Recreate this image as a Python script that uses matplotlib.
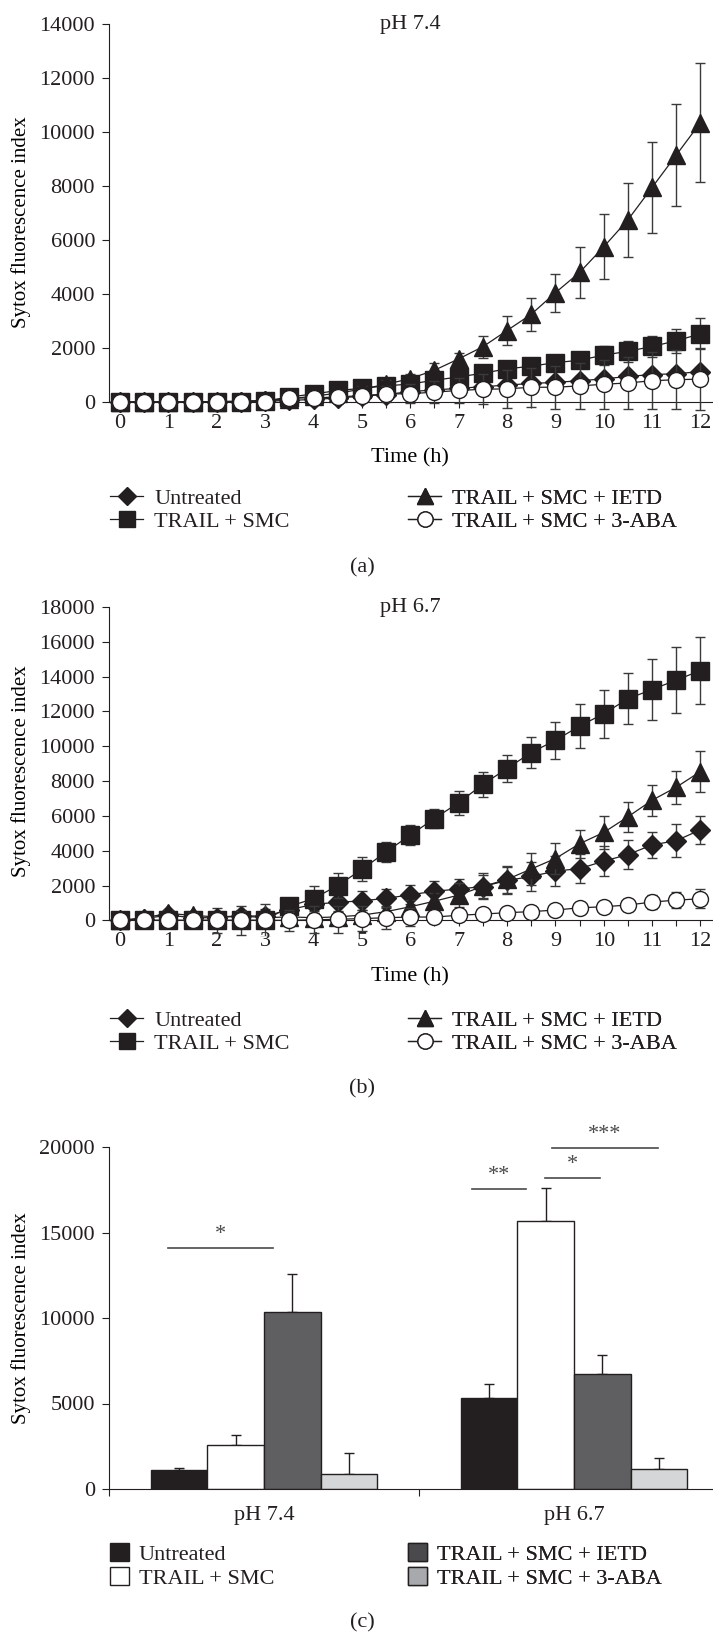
import matplotlib.pyplot as plt
from matplotlib.lines import Line2D
from matplotlib.patches import Patch

plt.rcParams['font.family'] = 'serif'
plt.rcParams['font.serif'] = ['Liberation Serif', 'DejaVu Serif']
plt.rcParams['font.size'] = 16
INK = '#231f20'
ERR = '#3a3a3a'
FS = 16
plt.rcParams['text.color'] = INK
plt.rcParams['axes.edgecolor'] = INK
plt.rcParams['xtick.color'] = INK
plt.rcParams['ytick.color'] = INK

# time points (h)
hours = [0, 0.5, 1, 1.5, 2, 2.5, 3, 3.5, 4, 4.5, 5, 5.5, 6, 6.5, 7, 7.5,
         8, 8.5, 9, 9.5, 10, 10.5, 11, 11.5, 12]
labels = ['Untreated', 'TRAIL + SMC', 'TRAIL + SMC + IETD', 'TRAIL + SMC + 3-ABA']

# (a) pH 7.4
untreated_a = [0, 0, 0, 0, 10, 20, 30, 60, 100, 150, 220, 280, 390, 450, 510, 570,
               630, 690, 730, 790, 860, 950, 1020, 1050, 1130]
untreated_a_err = [20, 20, 20, 20, 30, 30, 40, 50, 60, 80, 100, 110, 120, 130, 140, 150,
                   150, 160, 160, 170, 170, 180, 180, 190, 150]
trail_smc_a = [0, 0, 0, 0, 10, 20, 40, 190, 300, 430, 510, 600, 670, 810, 930, 1070,
               1230, 1330, 1460, 1550, 1740, 1880, 2060, 2270, 2530]
trail_smc_a_err = [20, 20, 20, 20, 30, 30, 40, 60, 80, 100, 120, 140, 160, 200, 220, 250,
                   260, 280, 300, 300, 350, 380, 400, 450, 580]
ietd_a = [0, 0, 0, 10, 20, 40, 60, 120, 220, 330, 480, 660, 870, 1180, 1600, 2050,
          2650, 3250, 4050, 4800, 5750, 6750, 7950, 9150, 10350]
ietd_a_err = [20, 20, 20, 20, 30, 40, 50, 60, 80, 100, 120, 150, 180, 250, 200, 400,
              540, 600, 700, 950, 1200, 1370, 1680, 1900, 2200]
aba_a = [0, 0, 0, 0, 0, 10, 10, 150, 155, 190, 240, 300, 310, 370, 430, 476,
         490, 550, 550, 600, 660, 710, 790, 830, 850]
aba_a_err = [20, 20, 20, 20, 20, 30, 40, 60, 80, 120, 200, 290, 360, 420, 480, 560,
             700, 720, 800, 850, 900, 950, 1050, 1100, 1150]

# (b) pH 6.7
untreated_b = [0, 100, 300, 150, 150, 250, 250, 600, 930, 1030, 1125, 1260, 1470, 1670, 1800, 1940,
               2290, 2520, 2830, 2970, 3400, 3780, 4330, 4580, 5200]
untreated_b_err = [100, 150, 200, 200, 250, 350, 400, 400, 500, 500, 550, 550, 550, 600, 600, 650,
                   800, 850, 850, 850, 850, 850, 750, 950, 800]
trail_smc_b = [0, 0, 0, 0, 0, 0, 0, 800, 1250, 2000, 2930, 3930, 4900, 5850, 6760, 7810,
               8720, 9640, 10340, 11160, 11870, 12730, 13260, 13800, 14350]
trail_smc_b_err = [300, 300, 300, 450, 700, 850, 950, 500, 700, 720, 680, 570, 590, 570, 690, 720,
                   800, 890, 1050, 1280, 1370, 1460, 1750, 1880, 1950]
ietd_b = [0, 150, 400, 280, 200, 250, 150, 200, 150, 200, 300, 500, 780, 1100, 1450, 1950,
          2350, 2950, 3550, 4400, 5050, 5950, 6900, 7650, 8550]
ietd_b_err = [100, 150, 200, 200, 250, 300, 300, 300, 300, 300, 300, 350, 400, 450, 700, 750,
              800, 900, 900, 800, 950, 850, 900, 950, 1200]
aba_b = [0, 0, 0, 0, 0, 0, 0, 0, 30, 60, 100, 150, 190, 190, 290, 360,
         440, 500, 590, 720, 780, 880, 1050, 1160, 1240]
aba_b_err = [100, 100, 100, 100, 100, 150, 200, 620, 780, 780, 700, 620, 500, 300, 250, 200,
             200, 200, 250, 250, 300, 340, 420, 450, 550]

# (c) 12 h endpoint
groups = ['pH 7.4', 'pH 6.7']
untreated_c = [1100, 5300]
untreated_c_err = [150, 850]
trail_smc_c = [2550, 15650]
trail_smc_c_err = [600, 1950]
ietd_c = [10350, 6750]
ietd_c_err = [2200, 1100]
aba_c = [850, 1150]
aba_c_err = [1250, 650]
# significance bars: (x start, x end, y, text)
sig_bars = [(-0.31, 0.03, 14100, '*'),
            (0.67, 0.845, 17550, '**'),
            (0.905, 1.085, 18200, '*'),
            (0.93, 1.27, 19950, '***')]

W, H = 713, 1634
fig = plt.figure(figsize=(W / 100, H / 100), dpi=100)


def rect(left, top, right, bottom):
    return [left / W, 1 - bottom / H, (right - left) / W, (bottom - top) / H]


markers = [('D', 10, INK), ('s', 12.5, INK), ('^', 12.5, INK), ('o', 11.5, 'white')]


def time_panel(ax, data, ymax, title):
    order = [0, 2, 1, 3]
    for i in order:
        vals, errs = data[i]
        m, ms, face = markers[i]
        ax.errorbar(hours, vals, yerr=errs, marker=m, ms=ms, mfc=face, mec=INK, mew=1,
                    color=INK, lw=0.9, ecolor=ERR, elinewidth=1, capsize=3.5,
                    capthick=1, zorder=3 + i)
    ax.set_xlim(-0.23, 12.3)
    ax.set_ylim(-ymax * 0.05, ymax)
    for s in ['top', 'right']:
        ax.spines[s].set_visible(False)
    ax.spines['bottom'].set_position(('data', 0))
    ax.spines['left'].set_bounds(0, ymax)
    ax.set_xticks(range(13))
    ax.set_xticks(hours, minor=True)
    ax.set_yticks(range(0, ymax + 1, 2000))
    ax.tick_params(axis='x', which='both', length=4.5, width=0.8, pad=4, labelsize=FS)
    ax.tick_params(axis='y', length=5, width=0.8, pad=5, labelsize=FS)
    ax.set_ylabel('Sytox fluorescence index', fontsize=15)
    ax.yaxis.set_label_coords(-0.145, 0.5)
    ax.yaxis.label.set_va('center')
    ax.text(6, ymax, title, ha='center', va='center', fontsize=FS)
    hdl = [Line2D([], [], marker=m, ms=ms * 0.95, mfc=face, mec=INK, color=INK, lw=0.9)
           for m, ms, face in markers]
    return hdl


def add_legend(ax, handles, top_px, **kw):
    for j, x_px in enumerate([110, 408]):
        leg = ax.legend(handles[2 * j:2 * j + 2], labels[2 * j:2 * j + 2], loc='upper left',
                        bbox_to_anchor=(x_px / W, 1 - top_px / H),
                        bbox_transform=fig.transFigure, frameon=False, borderpad=0,
                        borderaxespad=0, labelspacing=0.12, fontsize=FS, **kw)
        ax.add_artist(leg)


# panel (a)
ax_a = fig.add_axes(rect(109, 24, 715, 421))
h = time_panel(ax_a, [(untreated_a, untreated_a_err), (trail_smc_a, trail_smc_a_err),
                      (ietd_a, ietd_a_err), (aba_a, aba_a_err)], 14000, 'pH 7.4')
ax_a.set_xlabel('Time (h)', fontsize=FS)
ax_a.xaxis.set_label_coords(0.497, -0.093)
ax_a.xaxis.label.set_va('center')
add_legend(ax_a, h, 488, handlelength=1.5, handletextpad=0.5)

# panel (b)
ax_b = fig.add_axes(rect(109, 607, 715, 936))
h = time_panel(ax_b, [(untreated_b, untreated_b_err), (trail_smc_b, trail_smc_b_err),
                      (ietd_b, ietd_b_err), (aba_b, aba_b_err)], 18000, 'pH 6.7')
ax_b.set_xlabel('Time (h)', fontsize=FS)
ax_b.xaxis.set_label_coords(0.497, -(977 - 936) / (936 - 607))
ax_b.xaxis.label.set_va('center')
add_legend(ax_b, h, 1010, handlelength=1.5, handletextpad=0.5)

# panel (c)
ax_c = fig.add_axes(rect(109, 1147, 729, 1489))
bar_colors = [INK, 'white', '#5f5f61', '#d5d6d8']
bar_vals = [(untreated_c, untreated_c_err), (trail_smc_c, trail_smc_c_err),
            (ietd_c, ietd_c_err), (aba_c, aba_c_err)]
width = 0.1825
xs = list(range(len(groups)))
for i, (vals, errs) in enumerate(bar_vals):
    pos = [x + (i - 1.5) * width for x in xs]
    ax_c.bar(pos, vals, width, color=bar_colors[i], edgecolor=INK, lw=1, zorder=2)
    ax_c.errorbar(pos, vals, yerr=[[0] * len(errs), errs], fmt='none', ecolor=INK,
                  elinewidth=1, capsize=3.5, capthick=1, zorder=1)
for x0, x1, y, txt in sig_bars:
    ax_c.plot([x0, x1], [y, y], color='#4a4a4a', lw=1.2, clip_on=False)
    ax_c.text((x0 + x1) / 2, y + 200, txt, ha='center', va='bottom', fontsize=FS,
              color='#4a4a4a', clip_on=False)
ax_c.set_xlim(-0.5, 1.5)
ax_c.set_ylim(0, 20000)
for s in ['top', 'right']:
    ax_c.spines[s].set_visible(False)
ax_c.set_xticks(xs)
ax_c.set_xticklabels(groups)
ax_c.set_xticks([-0.5, 0.5, 1.5], minor=True)
ax_c.set_yticks(range(0, 20001, 5000))
ax_c.tick_params(axis='x', which='major', length=0, pad=12, labelsize=FS)
ax_c.tick_params(axis='x', which='minor', length=5, width=0.8)
ax_c.tick_params(axis='y', length=5, width=0.8, pad=5, labelsize=FS)
ax_c.set_ylabel('Sytox fluorescence index', fontsize=15)
ax_c.yaxis.set_label_coords(-0.142, 0.5)
ax_c.yaxis.label.set_va('center')
legend_colors = [INK, 'white', '#4a4a4c', '#a7a9ac']
ph = [Patch(facecolor=c, edgecolor=INK, lw=1) for c in legend_colors]
add_legend(ax_c, ph, 1543, handlelength=0.85, handleheight=0.85, handletextpad=0.45)

fig.text(362 / W, 1 - 568 / H, '(a)', ha='center', va='center', fontsize=FS)
fig.text(362 / W, 1 - 1089 / H, '(b)', ha='center', va='center', fontsize=FS)
fig.text(362 / W, 1 - 1623 / H, '(c)', ha='center', va='center', fontsize=FS)

fig.savefig('out.png', dpi=100)
